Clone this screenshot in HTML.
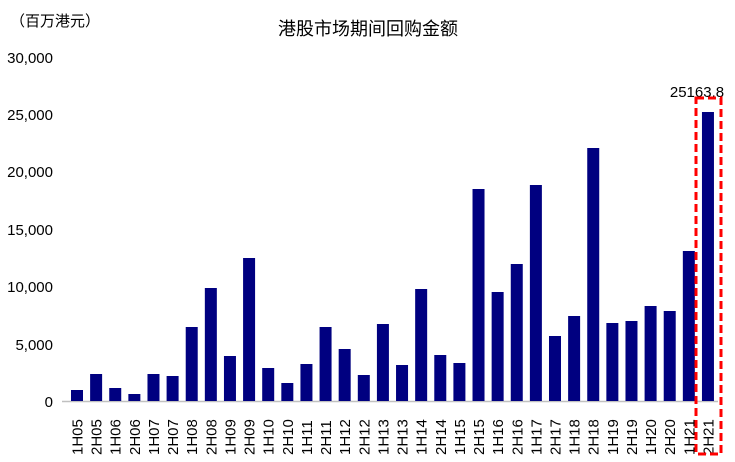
<!DOCTYPE html>
<html><head><meta charset="utf-8"><style>body{margin:0;background:#fff}svg{display:block}</style></head><body>
<svg width="735" height="462" xmlns="http://www.w3.org/2000/svg" font-family="Liberation Sans, Noto Sans CJK SC, sans-serif">
<text x="10" y="26" font-size="15">（百万港元）</text>
<text x="368" y="35" font-size="18" text-anchor="middle">港股市场期间回购金额</text>
<g font-size="15" text-anchor="end">
<text x="53" y="63">30,000</text><text x="53" y="120">25,000</text><text x="53" y="177">20,000</text><text x="53" y="235">15,000</text><text x="53" y="292">10,000</text><text x="53" y="350">5,000</text><text x="53" y="407">0</text>
</g>
<line x1="62" y1="401.5" x2="718" y2="401.5" stroke="#c0c0c0" stroke-width="1.5"/>
<g fill="#000080" id="bars"></g>
<g id="labels" font-size="15"></g>
<text x="697" y="97" font-size="15" text-anchor="middle">25163.8</text>
<rect x="696" y="98" width="25" height="356" fill="none" stroke="#ff0000" stroke-width="3" stroke-dasharray="8,4"/>
<script>
var tops=[390,374,388,394,374,376,327,288,356,258,368,383,364,327,349,375,324,365,289,355,363,189,292,264,185,336,316,148,323,321,306,311,251,112];
var b=document.getElementById('bars'),l=document.getElementById('labels'),ns='http://www.w3.org/2000/svg';
for(var i=0;i<34;i++){var x=71+i*19.12;var r=document.createElementNS(ns,'rect');r.setAttribute('x',x);r.setAttribute('y',tops[i]);r.setAttribute('width',12);r.setAttribute('height',401-tops[i]);b.appendChild(r);
var yr=5+Math.floor(i/2);var t=document.createElementNS(ns,'text');t.textContent=(i%2?'2H':'1H')+(yr<10?'0':'')+yr;var cx=x+6+5.5;t.setAttribute('transform','translate('+cx+',455) rotate(-90)');l.appendChild(t);}
</script>
</svg>
</body></html>
